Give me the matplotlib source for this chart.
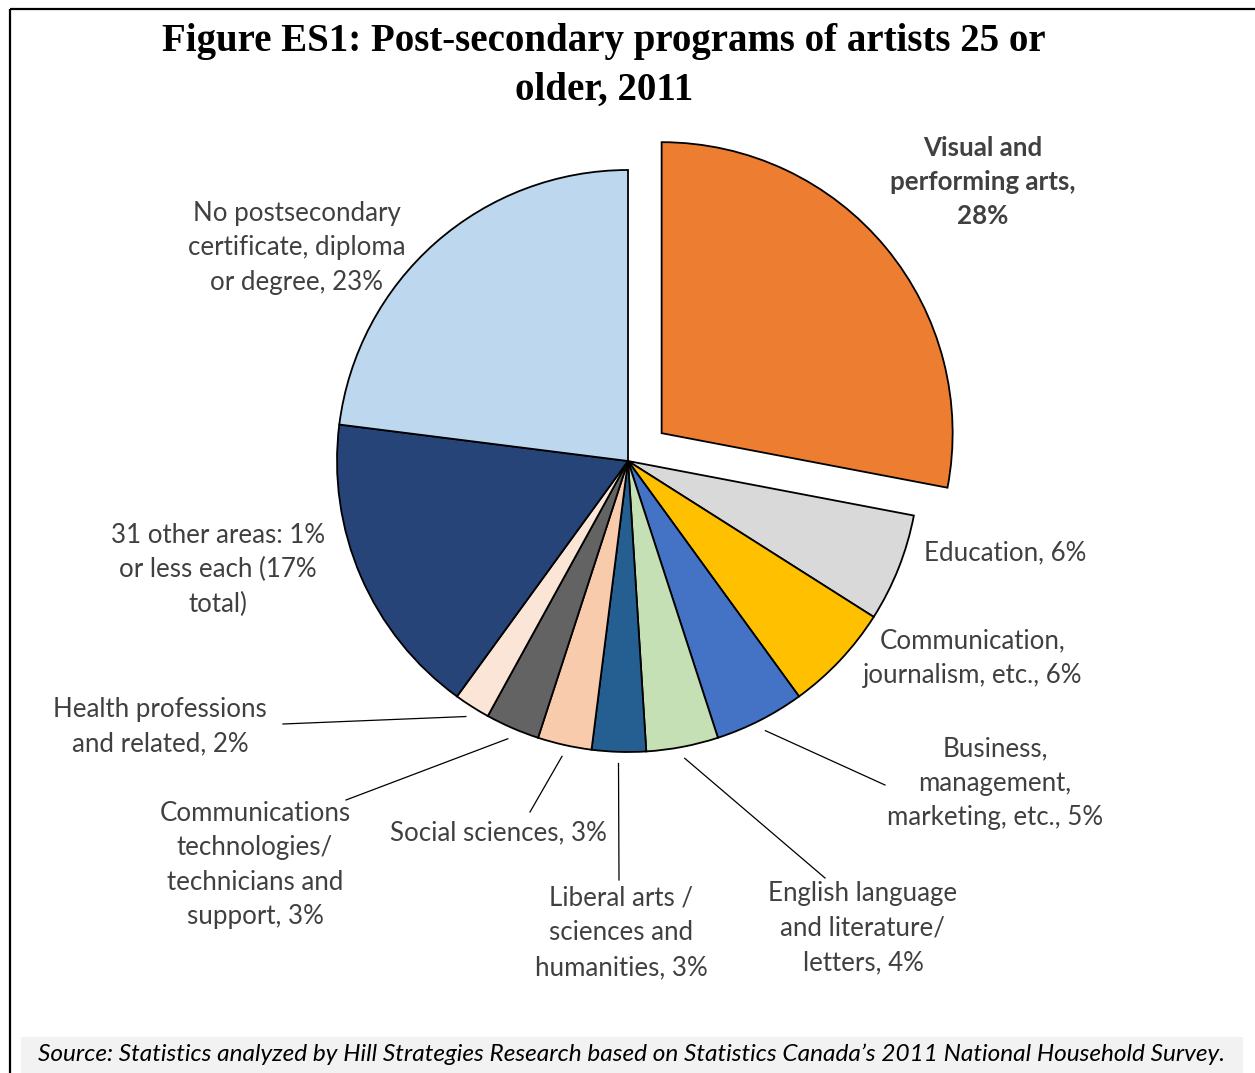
import numpy as np
import matplotlib
matplotlib.use("Agg")
import matplotlib.pyplot as plt
from matplotlib.patches import Rectangle

# program shares, clockwise from 12 o'clock
programs = ["Visual and performing arts", "Education", "Communication, journalism, etc.",
            "Business, management, marketing, etc.", "English language and literature/letters",
            "Liberal arts / sciences and humanities", "Social sciences",
            "Communications technologies/technicians and support", "Health professions and related",
            "31 other areas", "No postsecondary certificate, diploma or degree"]
shares = [28, 6, 6, 5, 4, 3, 3, 3, 2, 17, 23]
colors = ["#ED7D31", "#D9D9D9", "#FFC000", "#4472C4", "#C5E0B4", "#255E91",
          "#F8CBAD", "#636363", "#FBE5D6", "#264478", "#BDD7EE"]
explode = [0.15, 0, 0, 0, 0, 0, 0, 0, 0, 0, 0]

labels = ["Visual and\nperforming arts,\n28%",
          "Education, 6%",
          "Communication,\njournalism, etc., 6%",
          "Business,\nmanagement,\nmarketing, etc., 5%",
          "English language\nand literature/\nletters, 4%",
          "Liberal arts /\nsciences and\nhumanities, 3%",
          "Social sciences, 3%",
          "Communications\ntechnologies/\ntechnicians and\nsupport, 3%",
          "Health professions\nand related, 2%",
          "31 other areas: 1%\nor less each (17%\ntotal)",
          "No postsecondary\ncertificate, diploma\nor degree, 23%"]
# label centre (px) and leader line end (px, None = no leader)
label_pos = [(983, 182), (1005, 553), (973, 658), (995, 783), (863, 928),
             (621, 933), (498, 833), (255, 865), (160, 727), (218, 570), (297, 248)]
leader_end = [None, None, None, (885, 785), (825, 878), (619, 880),
              (530, 812), (346, 800), (283, 724), None, None]

W, H = 1255, 1073
cx, cy, R = 628, 461, 291

fig = plt.figure(figsize=(W / 100, H / 100), dpi=100)

pie_ax = fig.add_axes([(cx - R) / W, (H - cy - R) / H, 2 * R / W, 2 * R / H])
wedges, _ = pie_ax.pie(shares, colors=colors, explode=explode, startangle=90,
                       counterclock=False,
                       wedgeprops=dict(edgecolor="black", linewidth=1.3))
for w in wedges:
    w.set_clip_on(False)
pie_ax.set_xlim(-1, 1)
pie_ax.set_ylim(-1, 1)
pie_ax.axis("off")

# overlay in pixel coordinates for frame, title, labels
ov = fig.add_axes([0, 0, 1, 1], zorder=5)
ov.set_xlim(0, W)
ov.set_ylim(H, 0)
ov.axis("off")

ov.plot([10, W], [9, 9], color="black", lw=1.6, solid_capstyle="butt")
ov.plot([10, 10], [9, H], color="black", lw=1.6, solid_capstyle="butt")
ov.add_patch(Rectangle((21, 1037), 1222, 36, facecolor="#F2F2F2", edgecolor="none"))

ov.text(604, 66, "Figure ES1: Post-secondary programs of artists 25 or\nolder, 2011",
        ha="center", va="center", fontsize=28, fontweight="bold",
        family="Liberation Serif", linespacing=1.45, color="black")

for i, (txt, (lx, ly)) in enumerate(zip(labels, label_pos)):
    ov.text(lx, ly, txt, ha="center", va="center", fontsize=18.6, family="Lato",
            color="#404040", linespacing=1.48,
            fontweight="bold" if i == 0 else "normal")
    if leader_end[i] is not None:
        w = wedges[i]
        mid = np.deg2rad((w.theta1 + w.theta2) / 2)
        sx = cx + R * 1.04 * np.cos(mid)
        sy = cy - R * 1.04 * np.sin(mid)
        ex, ey = leader_end[i]
        ov.plot([sx, ex], [sy, ey], color="black", lw=0.9)

ov.text(632, 1054, "Source: Statistics analyzed by Hill Strategies Research based on "
        "Statistics Canada\u2019s 2011 National Household Survey.",
        ha="center", va="center", fontsize=17.6, family="Lato", style="italic",
        color="black")

fig.savefig("out.png", dpi=100)
